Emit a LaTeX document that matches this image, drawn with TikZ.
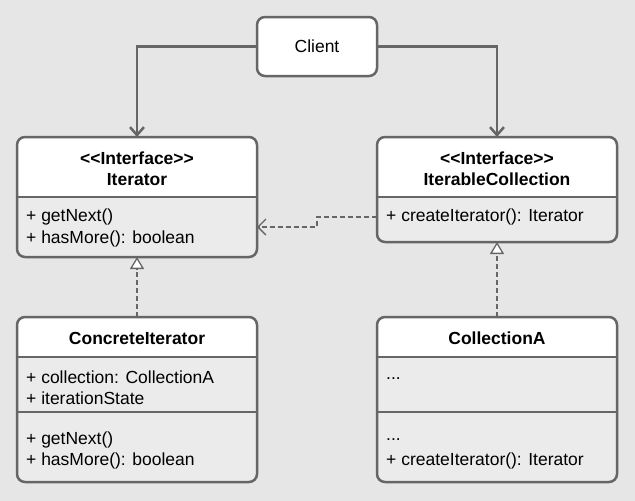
\documentclass[tikz,border=0pt]{standalone}
\usepackage{fontspec}
\setmainfont{Liberation Sans}
\usetikzlibrary{arrows.meta}
\definecolor{bg}{HTML}{E6E6E6}
\definecolor{ln}{HTML}{666666}
\begin{document}
\begin{tikzpicture}[x=1pt,y=-1pt,
  box/.style={draw=ln,line width=2.5pt,rounded corners=8pt},
  sep/.style={draw=ln,line width=2.5pt},
  txt/.style={font=\fontsize{17.5}{21}\selectfont,anchor=west,inner sep=0pt},
  ttl/.style={font=\fontsize{17.5}{21}\selectfont\bfseries,align=center,inner sep=0pt},
  assoc/.style={draw=ln,line width=2.5pt,-{Straight Barb[length=8pt,width=14pt]}},
  dep/.style={draw=ln,line width=1.3pt,dashed,dash pattern=on 5pt off 3pt,-{Straight Barb[length=8pt,width=16pt,line width=1.3pt]}},
  real/.style={draw=ln,line width=1.3pt,dash pattern=on 5pt off 3pt,-{Triangle[open,length=12pt,width=14pt,line width=1.3pt,fill=white]}}]
\fill[bg] (0,0) rectangle (635,501);
\newcommand{\umlbox}[6]{%
  \begin{scope}
    \clip[rounded corners=8pt] (#2,#3) rectangle (#4,#5);
    \fill[bg!80!white] (#2,#3) rectangle (#4,#5);
    \fill[white] (#2,#3) rectangle (#4,#6);
  \end{scope}
  \path[box] (#2,#3) rectangle (#4,#5);
  \coordinate (#1-nw) at (#2,#3);
}
% Client
\node[box,fill=white,minimum width=120pt,minimum height=59pt,font=\fontsize{17.5}{21}\selectfont] (client) at (317,46.5) {Client};
% Iterator
\umlbox{it}{17}{137}{257}{257}{197}
\draw[sep] (17,197) -- (257,197);
\node[ttl] (itt) at (137,168.5) {{<}{<}Interface{>}{>}\\Iterator};
\node[txt] (it1) at (26,217) {+ getNext()};
\node[txt] (it2) at (26,239) {+ hasMore(): boolean};
\coordinate (itN) at (137,137);
\coordinate (itS) at (137,257);
\coordinate (itE) at (257,227);
% IterableCollection
\umlbox{ic}{377}{137}{617}{242}{197}
\draw[sep] (377,197) -- (617,197);
\node[ttl] (ict) at (497,168.5) {{<}{<}Interface{>}{>}\\IterableCollection};
\node[txt] (ic1) at (386,217) {+ createIterator(): Iterator};
\coordinate (icN) at (497,137);
\coordinate (icS) at (497,242);
\coordinate (icW) at (377,217);
% ConcreteIterator
\umlbox{ci}{17}{317}{257}{482}{357}
\draw[sep] (17,357) -- (257,357);
\draw[sep] (17,412) -- (257,412);
\node[ttl] (cit) at (137,338) {ConcreteIterator};
\node[txt] (ci1) at (26,377) {+ collection: CollectionA};
\node[txt] (ci2) at (26,398) {+ iterationState};
\node[txt] (ci3) at (26,440) {+ getNext()};
\node[txt] (ci4) at (26,461) {+ hasMore(): boolean};
\coordinate (ciN) at (137,317);
% CollectionA
\umlbox{ca}{377}{317}{617}{482}{357}
\draw[sep] (377,357) -- (617,357);
\draw[sep] (377,412) -- (617,412);
\node[ttl] (cat) at (497,338) {CollectionA};
\node[txt] (ca1) at (386,379) {...};
\node[txt] (ca2) at (386,440) {...};
\node[txt] (ca3) at (386,461) {+ createIterator(): Iterator};
\coordinate (caN) at (497,317);
% connectors
\draw[assoc] (client.west) -| (itN);
\draw[assoc] (client.east) -| (icN);
\draw[dep] (icW) -- (317,217) -- (317,227) -- (itE);
\draw[real] (ciN) -- (itS);
\draw[real] (caN) -- (icS);
\end{tikzpicture}
\end{document}
